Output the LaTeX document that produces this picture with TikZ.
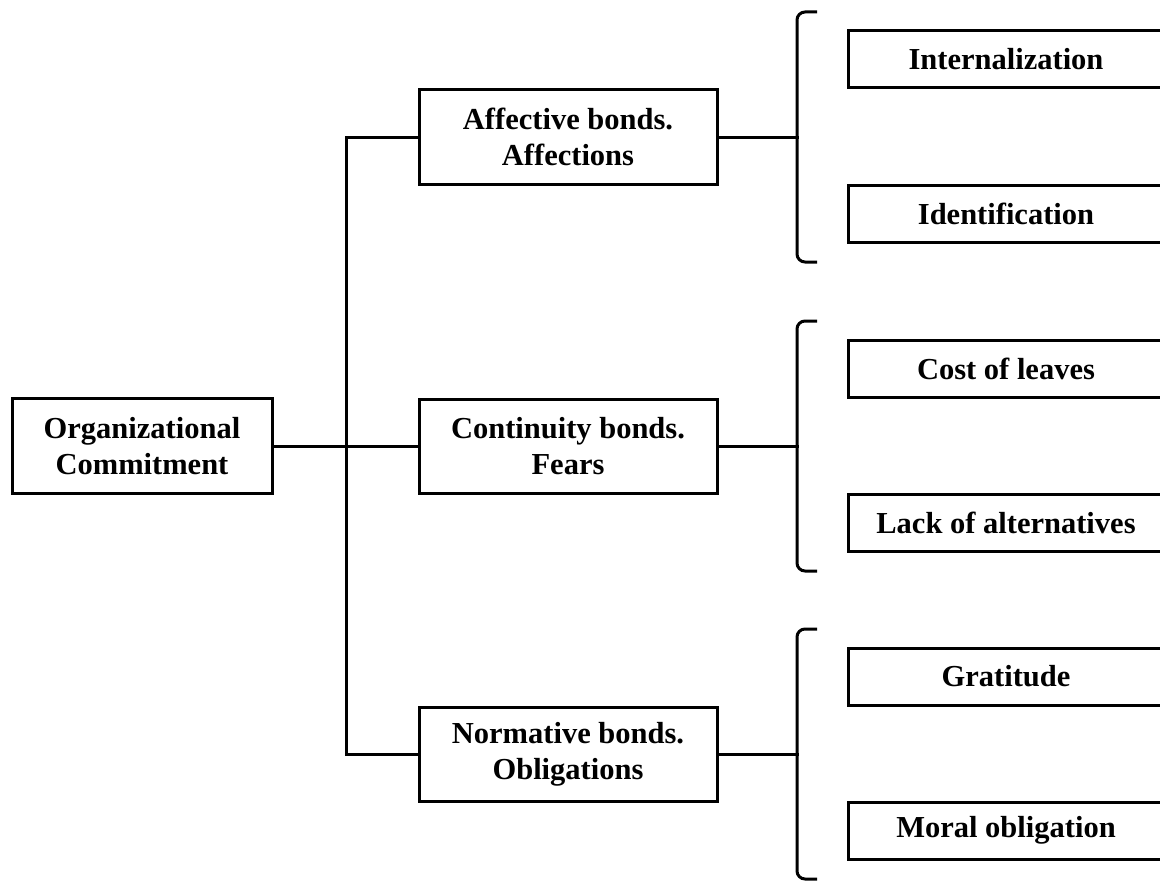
\documentclass[tikz,border=0pt]{standalone}
\usepackage{fontspec}
\setmainfont{Liberation Serif}
\begin{document}
\begin{tikzpicture}[x=1pt,y=-1pt,
  box/.style={draw=black,line width=3pt,fill=white,inner sep=0pt,align=center,
    font=\fontsize{30.5}{36}\selectfont\bfseries},
  rootbox/.style={box,minimum width=260pt,minimum height=95pt},
  midbox/.style={box,minimum width=298pt,minimum height=94pt},
  leafbox/.style={box,minimum width=316pt,minimum height=57pt},
  link/.style={line width=3pt,line cap=rect},
  brace/.style={line width=3pt,rounded corners=8pt}]
\useasboundingbox (0,0) rectangle (1160,883);
\clip (0,0) rectangle (1160,883);
\fill[white] (0,0) rectangle (1160,883);

\node[rootbox] (oc) at (142,446) {Organizational\\Commitment};
\node[midbox] (aff) at (568,137) {Affective bonds.\\Affections};
\node[midbox] (con) at (568,446) {Continuity bonds.\\Fears};
\node[midbox] (nor) at (568,754) {Normative bonds.\\Obligations};

\node[leafbox] (int) at (1006,59.5) {Internalization};
\node[leafbox] (ide) at (1006,213.5) {Identification};
\node[leafbox] (cos) at (1006,368.5) {Cost of leaves};
\node[leafbox] (lac) at (1006,522.5) {Lack of alternatives};
\node[leafbox] (gra) at (1006,676.5) {Gratitude};
\node[leafbox] (mor) at (1006,830.5) {Moral obligation};

\coordinate (j) at (346,446);
\coordinate (ja) at (346,137);
\coordinate (jn) at (346,754);
\coordinate (ba) at (797,137);
\coordinate (bc) at (797,446);
\coordinate (bn) at (797,754);

\draw[link] (oc.east) -- (j) -- (con.west);
\draw[link] (ja) -- (jn);
\draw[link] (ja) -- (aff.west);
\draw[link] (jn) -- (nor.west);
\draw[link] (aff.east) -- (ba);
\draw[link] (con.east) -- (bc);
\draw[link] (nor.east) -- (bn);

\foreach \b in {ba,bc,bn}{
  \draw[brace] ([shift={(20,-125)}]\b) -- ([shift={(0,-125)}]\b) -- (\b) -- ([shift={(0,125)}]\b) -- ([shift={(20,125)}]\b);
}
\end{tikzpicture}
\end{document}
